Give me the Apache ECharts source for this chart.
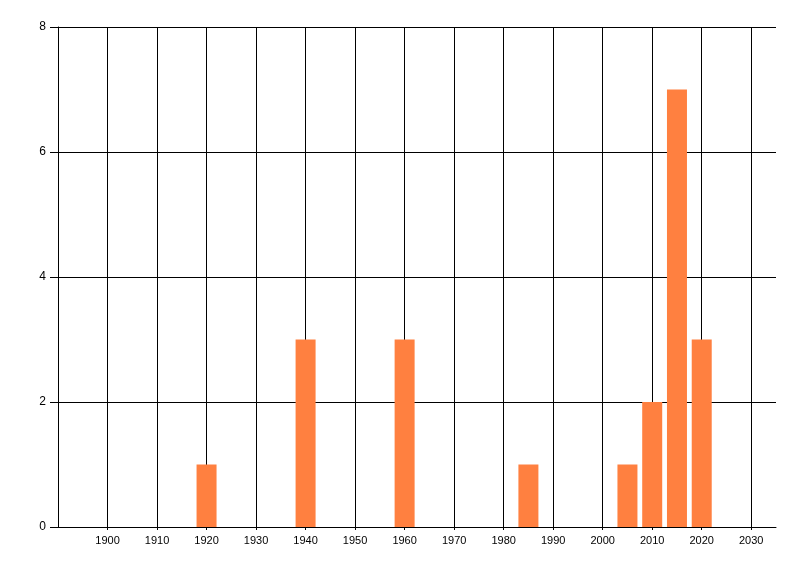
<!DOCTYPE html>
<html>
<head>
<meta charset="utf-8">
<script src="https://cdn.jsdelivr.net/npm/echarts@6/dist/echarts.min.js"></script>
<style>
  html, body { margin: 0; padding: 0; background: #fff; }
  #chart { width: 800px; height: 576px; }
</style>
</head>
<body>
<div id="chart"></div>
<script>
// year -> count
const years = [1920, 1940, 1960, 1985, 2005, 2010, 2015, 2020];
const counts = [1, 3, 3, 1, 1, 2, 7, 3];
const xTicks = [1900, 1910, 1920, 1930, 1940, 1950, 1960, 1970, 1980, 1990, 2000, 2010, 2020, 2030];

const xMin = 1890;
const xMax = 2035;
const yMax = 8;

var chart = echarts.init(document.getElementById('chart'));

var data = [];
for (let i = 0; i < years.length; i++) {
  data.push([years[i], counts[i]]);
}

var axisFont = {
  color: '#000',
  fontFamily: 'Liberation Sans, DejaVu Sans, sans-serif',
  fontSize: 11
};

var option = {
  animation: false,
  grid: {
    left: 58,
    right: 24,
    top: 27,
    bottom: 49
  },
  xAxis: {
    type: 'value',
    min: xMin,
    max: xMax,
    interval: 10,
    axisLine: { lineStyle: { color: '#000', width: 1 } },
    axisTick: { show: true, length: 3, customValues: xTicks, lineStyle: { color: '#000' } },
    axisLabel: Object.assign({}, axisFont, {
      margin: 8,
      customValues: xTicks,
      formatter: function (v) { return String(v); }
    }),
    splitLine: { show: true, showMinLine: true, showMaxLine: true, lineStyle: { color: '#000', width: 1 } }
  },
  yAxis: {
    type: 'value',
    min: 0,
    max: yMax,
    interval: 2,
    axisLine: { show: true, lineStyle: { color: '#000', width: 1 } },
    axisTick: { show: true, length: 8, lineStyle: { color: '#000' } },
    axisLabel: Object.assign({}, axisFont, { margin: 12, fontSize: 12 }),
    splitLine: { show: true, lineStyle: { color: '#000', width: 1 } }
  },
  series: [
    {
      type: 'bar',
      data: data,
      barWidth: 20,
      itemStyle: { color: '#FF8040' }
    }
  ]
};

chart.setOption(option);
</script>
</body>
</html>
